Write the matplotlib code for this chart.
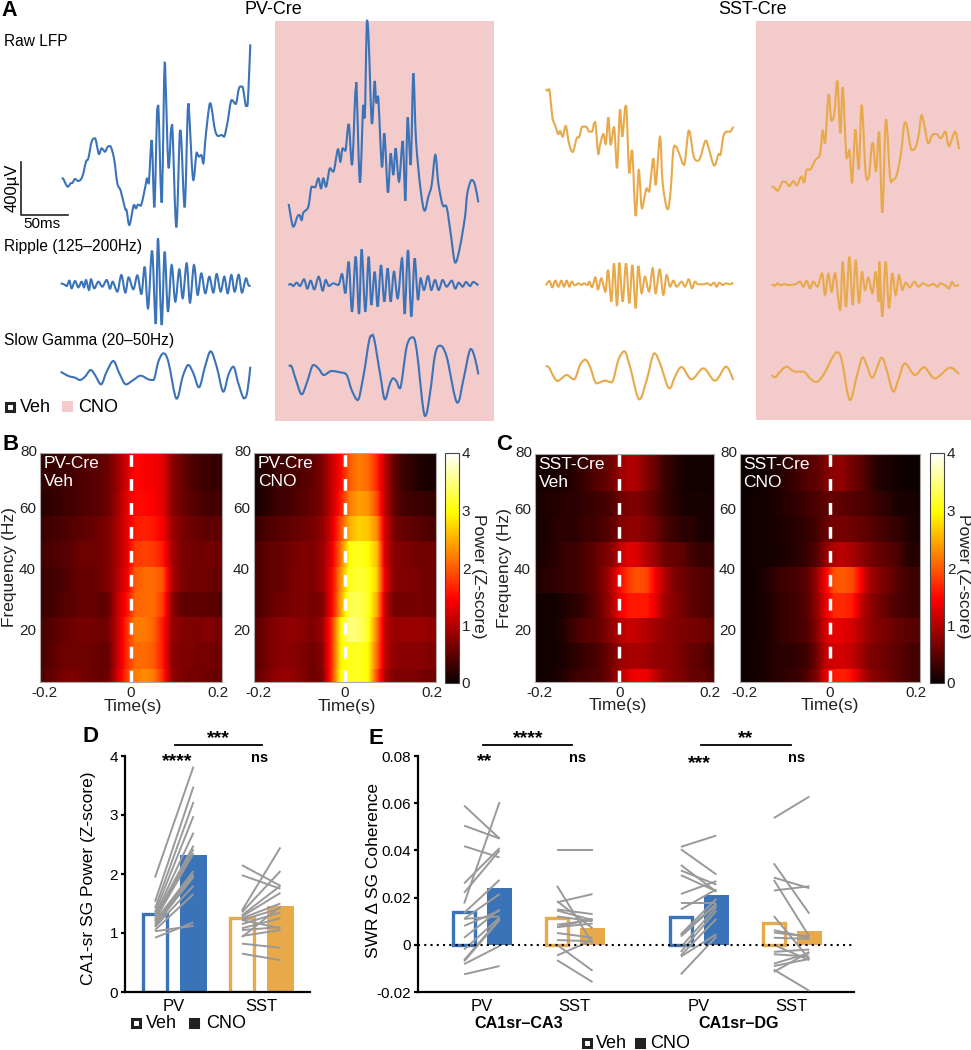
import numpy as np
import matplotlib
matplotlib.use('Agg')
import matplotlib.pyplot as plt
from matplotlib.patches import Rectangle, PathPatch
from matplotlib.path import Path

plt.rcParams['font.family'] = ['Liberation Sans', 'DejaVu Sans']

W, H = 971, 1050
BLUE = '#3a73b8'
ORANGE = '#e8a94a'
PINK = '#f2cbca'
GREY = '#999999'

# Panel A traces (x, y on a 3x grid of the image)
pv_veh_raw = [(185,535),(190,537),(203,560),(212,550),(218,548),(225,537),(235,543),(247,530),(258,485),(265,475),(275,425),(285,415),(297,462),(305,445),(315,455),(322,442),(330,438),(342,475),(352,550),(362,572),(375,625),(380,632),(388,675),(402,615),(408,625),(414,614),(422,617),(435,565),(441,536),(446,550),(455,420),(463,622),(472,325),(476,340),(485,608),(494,188),(497,250),(506,505),(514,383),(518,400),(529,682),(540,392),(544,420),(554,622),(564,320),(567,330),(580,540),(590,458),(597,470),(604,465),(610,490),(617,410),(630,310),(635,325),(645,390),(655,408),(665,405),(672,410),(682,370),(695,300),(707,312),(717,265),(727,260),(738,318),(742,318),(751,133)]
pv_cno_raw = [(866,612),(880,680),(892,650),(898,645),(905,660),(910,638),(925,620),(935,560),(945,562),(955,535),(963,565),(970,535),(978,560),(990,505),(1000,515),(1014,448),(1021,485),(1028,445),(1036,452),(1046,372),(1056,495),(1067,268),(1070,270),(1080,548),(1090,315),(1094,355),(1101,62),(1106,120),(1116,372),(1124,243),(1129,310),(1134,290),(1146,502),(1153,400),(1164,578),(1172,460),(1180,525),(1187,445),(1197,545),(1208,423),(1216,602),(1223,352),(1232,495),(1240,220),(1248,420),(1262,570),(1274,632),(1285,590),(1295,555),(1306,465),(1315,550),(1328,615),(1340,622),(1352,700),(1366,788),(1380,740),(1395,650),(1402,580),(1415,540),(1425,555),(1435,607)]
pv_veh_rip = [(182,850),(192,853),(200,858),(208,842),(215,865),(225,843),(235,862),(245,845),(252,862),(258,840),(267,870),(273,838),(283,865),(295,845),(307,860),(320,840),(330,866),(338,845),(352,875),(364,825),(376,878),(386,832),(400,868),(412,826),(424,882),(434,800),(444,925),(456,752),(467,972),(474,715),(485,975),(494,755),(504,935),(515,795),(526,905),(538,808),(548,895),(560,790),(570,908),(582,795),(593,885),(604,820),(616,880),(628,830),(640,878),(650,822),(662,875),(673,830),(683,880),(694,825),(704,875),(716,824),(726,878),(738,835),(745,855),(752,858)]
pv_cno_rip = [(865,855),(872,852),(880,858),(890,848),(900,858),(912,838),(922,866),(932,842),(943,868),(956,830),(968,872),(977,840),(987,858),(1000,850),(1015,855),(1026,822),(1036,880),(1046,785),(1056,935),(1067,770),(1077,942),(1085,748),(1096,935),(1106,770),(1114,915),(1124,815),(1133,920),(1143,795),(1153,905),(1163,805),(1172,905),(1182,815),(1193,895),(1206,775),(1214,942),(1224,750),(1234,950),(1244,775),(1254,900),(1262,835),(1272,870),(1284,828),(1294,870),(1305,840),(1316,870),(1328,840),(1340,860),(1355,842),(1366,866),(1376,848),(1388,860),(1398,846),(1410,858),(1420,846),(1435,856)]
pv_veh_sg = [(182,1115),(205,1128),(225,1133),(240,1140),(255,1130),(272,1110),(285,1125),(303,1153),(320,1115),(340,1083),(358,1120),(378,1153),(400,1140),(422,1127),(445,1138),(460,1140),(475,1085),(490,1060),(505,1085),(530,1196),(548,1130),(565,1095),(580,1120),(597,1162),(615,1100),(632,1054),(650,1100),(670,1175),(685,1125),(700,1100),(715,1150),(732,1195),(742,1175),(751,1100)]
pv_cno_sg = [(866,1098),(875,1100),(888,1140),(905,1183),(920,1150),(940,1095),(955,1105),(972,1125),(995,1113),(1020,1117),(1040,1125),(1055,1170),(1073,1200),(1090,1130),(1112,1008),(1122,1015),(1140,1120),(1155,1198),(1170,1150),(1180,1135),(1190,1145),(1200,1165),(1220,1040),(1237,1012),(1250,1050),(1275,1248),(1290,1180),(1305,1065),(1320,1037),(1340,1070),(1372,1208),(1390,1140),(1412,1047),(1425,1075),(1435,1123)]

sst_veh_raw = [(137,268),(142,272),(146,268),(150,280),(157,352),(165,375),(175,402),(180,393),(188,410),(197,378),(207,430),(218,456),(230,415),(238,410),(247,380),(258,380),(268,395),(276,395),(283,368),(287,375),(295,462),(300,435),(310,402),(317,432),(325,352),(332,435),(342,380),(351,505),(360,328),(367,410),(376,320),(380,335),(388,520),(396,450),(407,648),(416,510),(420,550),(426,625),(440,565),(447,575),(460,475),(467,555),(480,410),(488,550),(503,628),(512,570),(520,450),(528,440),(538,462),(552,495),(566,392),(572,410),(580,465),(590,482),(600,475),(617,422),(625,440),(643,497),(656,462),(661,465),(670,410),(680,395),(690,395),(700,380)]
sst_cno_raw = [(815,560),(822,562),(833,572),(848,545),(858,547),(868,558),(880,543),(890,556),(904,530),(912,547),(920,510),(932,508),(945,482),(960,462),(968,392),(975,430),(986,282),(994,362),(1003,340),(1012,242),(1021,400),(1028,262),(1040,475),(1048,450),(1056,550),(1066,388),(1076,508),(1085,315),(1097,520),(1106,532),(1116,432),(1120,435),(1128,515),(1137,395),(1147,638),(1158,358),(1170,530),(1178,540),(1190,525),(1203,460),(1214,368),(1220,375),(1235,450),(1245,445),(1255,410),(1265,345),(1272,370),(1285,430),(1297,405),(1310,402),(1322,415),(1336,395),(1347,438),(1365,395),(1377,447)]
sst_veh_rip = [(137,856),(148,843),(157,862),(166,842),(175,860),(184,842),(192,860),(200,842),(208,860),(215,845),(225,856),(235,850),(245,855),(252,850),(262,855),(268,845),(276,862),(286,832),(294,868),(304,835),(316,875),(324,810),(334,905),(342,790),(351,918),(358,788),(368,905),(378,790),(388,910),(397,795),(407,925),(415,798),(425,880),(435,830),(447,875),(458,805),(467,880),(479,808),(490,885),(500,825),(510,860),(520,842),(530,860),(545,845),(555,860),(566,838),(576,865),(585,845),(595,853),(610,853),(622,850),(632,856),(642,848),(650,860),(658,848),(668,855),(678,850),(690,853),(700,848)]
sst_cno_rip = [(815,853),(825,857),(833,850),(843,856),(853,852),(865,855),(885,853),(900,845),(910,860),(920,843),(930,865),(940,845),(952,860),(966,820),(975,885),(985,822),(995,875),(1005,820),(1020,930),(1028,785),(1038,920),(1048,770),(1058,915),(1067,780),(1077,910),(1086,815),(1095,870),(1105,832),(1117,880),(1127,815),(1136,905),(1138,785),(1147,950),(1157,785),(1167,925),(1177,820),(1187,885),(1197,825),(1207,870),(1217,848),(1230,862),(1243,845),(1255,860),(1270,850),(1285,857),(1300,852),(1312,860),(1322,850),(1335,856),(1347,865),(1356,846),(1365,858),(1377,855)]
sst_veh_sg = [(137,1098),(147,1103),(160,1128),(172,1143),(185,1135),(200,1125),(222,1138),(240,1095),(256,1079),(270,1100),(290,1150),(315,1142),(335,1147),(355,1080),(373,1054),(390,1100),(418,1198),(440,1140),(463,1060),(480,1090),(508,1165),(525,1130),(545,1101),(575,1138),(610,1105),(645,1142),(678,1100),(700,1140)]
sst_cno_sg = [(815,1125),(825,1132),(840,1115),(860,1100),(885,1115),(910,1115),(930,1135),(948,1146),(970,1125),(1010,1057),(1025,1080),(1050,1200),(1070,1130),(1088,1072),(1100,1095),(1117,1133),(1145,1073),(1160,1110),(1180,1175),(1195,1140),(1215,1090),(1245,1125),(1272,1102),(1305,1135),(1350,1103),(1377,1122)]

# Heatmaps: frequency rows top to bottom, 20 time bins
time_edges = np.linspace(-0.2, 0.2, 21)
freq_edges = [77.8, 65.5, 57, 48.7, 40.3, 32, 23.8, 15.6, 6.9, 2.8]

pv_veh_map = [
    [.25,.28,.3,.35,.4,.45,.5,.6,.85,1.2,1.5,1.45,1.4,1.3,.8,.6,.45,.35,.3,.25],
    [.2,.25,.3,.35,.4,.45,.5,.6,.9,1.3,1.5,1.5,1.45,1.3,.8,.6,.5,.4,.35,.35],
    [.3,.35,.4,.45,.5,.55,.6,.7,.95,1.3,1.6,1.65,1.6,1.4,.9,.7,.6,.55,.5,.5],
    [.35,.4,.45,.5,.6,.6,.6,.7,.95,1.3,1.8,1.85,1.8,1.6,.95,.7,.65,.6,.65,.6],
    [.3,.35,.4,.5,.55,.55,.6,.7,1,1.35,2.0,2.1,2.1,1.95,1,.7,.65,.6,.6,.55],
    [.3,.35,.45,.5,.55,.55,.5,.55,1.1,1.5,2.05,2.1,2.1,1.8,.8,.55,.5,.5,.5,.45],
    [.4,.45,.55,.6,.65,.65,.6,.65,1.1,1.7,2.2,2.2,2.05,1.6,.85,.75,.7,.7,.75,.65],
    [.4,.5,.6,.6,.6,.6,.55,.55,1.1,1.7,2.1,2.1,2,1.6,.8,.7,.7,.65,.65,.6],
    [.45,.55,.65,.7,.65,.6,.55,.6,1.2,1.8,2.2,2.3,2.2,1.7,.85,.7,.65,.65,.6,.55],
]
pv_cno_map = [
    [.1,.2,.3,.35,.4,.45,.55,.7,1.1,1.5,2.0,2.2,2.1,1.7,1,.5,.3,.2,.12,.1],
    [.1,.2,.3,.35,.4,.5,.55,.7,1.1,1.6,2.2,2.4,2.35,1.9,1.0,.5,.35,.3,.3,.25],
    [.3,.4,.45,.5,.55,.6,.65,.8,1.2,1.9,2.5,2.7,2.65,2.3,1.1,.65,.55,.5,.45,.4],
    [.4,.5,.55,.6,.65,.7,.7,.85,1.3,2.1,3.0,3.1,3.0,2.6,1.1,.75,.7,.65,.6,.6],
    [.4,.5,.55,.6,.7,.7,.7,.85,1.4,2.3,3.1,3.2,3.1,2.7,1.2,.75,.7,.7,.65,.6],
    [.4,.5,.6,.65,.7,.7,.65,.7,1.4,2.4,3.3,3.3,3.15,2.5,1,.65,.65,.65,.65,.6],
    [.5,.65,.75,.8,.8,.75,.7,.85,1.7,2.9,3.5,3.4,3.15,2.2,1,.85,.85,.85,.85,.8],
    [.5,.65,.75,.75,.75,.7,.6,.75,1.7,2.9,3.1,3.1,3.0,2.1,1,.8,.75,.75,.75,.7],
    [.55,.7,.8,.85,.8,.7,.6,.7,1.7,3.0,3.1,3.1,3.0,1.9,.9,.7,.7,.7,.65,.6],
]
sst_veh_map = [
    [.05,.08,.1,.12,.2,.3,.4,.5,.6,.85,1.0,.95,.7,.55,.3,.2,.08,.06,.05,.05],
    [.1,.15,.15,.2,.2,.25,.3,.35,.4,.6,.7,.7,.6,.45,.3,.2,.1,.08,.1,.08],
    [.1,.12,.2,.2,.2,.3,.3,.4,.5,.7,.8,.8,.7,.6,.4,.3,.2,.2,.1,.1],
    [.1,.15,.2,.3,.3,.4,.5,.65,.75,1.1,1.3,1.25,1.0,.85,.6,.55,.5,.35,.25,.25],
    [.15,.2,.25,.3,.3,.4,.5,.7,1,1.5,1.8,1.95,1.85,1.4,1.0,.7,.6,.5,.45,.4],
    [.05,.05,.08,.15,.2,.3,.45,.65,.95,1.4,1.6,1.6,1.6,1.3,.9,.75,.65,.5,.45,.4],
    [.05,.05,.08,.2,.35,.45,.5,.6,.8,1.0,1.15,1.1,1.0,.9,.8,.75,.7,.65,.65,.55],
    [.05,.05,.08,.15,.2,.3,.35,.45,.65,.85,.95,.95,.9,.8,.8,.75,.65,.55,.5,.4],
    [.05,.05,.1,.2,.3,.35,.4,.45,.65,1.0,1.3,1.4,1.35,1.1,.85,.75,.7,.55,.55,.45],
]
sst_cno_map = [
    [.02,.03,.05,.08,.15,.25,.35,.45,.5,.7,.8,.8,.6,.5,.3,.15,.1,.05,.03,.03],
    [.03,.05,.05,.1,.15,.2,.25,.35,.4,.5,.55,.5,.45,.4,.35,.25,.2,.1,.1,.08],
    [.03,.05,.05,.1,.12,.15,.2,.25,.35,.55,.65,.65,.6,.55,.45,.4,.3,.25,.15,.1],
    [.02,.05,.05,.08,.1,.15,.2,.3,.45,.8,1.0,1.05,.95,.8,.65,.55,.5,.4,.2,.15],
    [.02,.05,.1,.2,.3,.35,.4,.5,.85,1.4,1.95,2.0,1.9,1.4,.9,.75,.6,.45,.35,.3],
    [.02,.05,.08,.15,.25,.3,.35,.5,.8,1.3,1.7,1.7,1.6,1.1,.8,.65,.5,.4,.35,.3],
    [.03,.05,.1,.15,.25,.3,.35,.45,.75,1.2,1.35,1.3,1.2,1.0,.8,.7,.65,.55,.5,.45],
    [.03,.05,.08,.15,.2,.2,.25,.35,.6,1.1,1.2,1.2,1.1,.9,.7,.65,.55,.5,.4,.35],
    [.03,.05,.1,.15,.2,.25,.3,.45,.7,1.3,1.6,1.65,1.5,1.1,.8,.7,.6,.5,.4,.35],
]

# Panel D bars and paired animals (veh, cno)
d_veh = [1.33, 1.26]
d_cno = [2.33, 1.46]
d_pv_pairs = [(1.94,3.82),(1.53,3.48),(1.42,3.22),(1.35,2.98),(1.3,2.7),(1.28,2.48),(1.25,2.42),(1.22,2.35),(1.2,2.05),(1.18,2.0),(1.15,1.98),(1.12,1.95),(1.1,1.8),(1.05,1.66),(.92,1.18),(1.03,1.12)]
d_sst_pairs = [(2.15,1.8),(1.98,1.75),(1.38,2.45),(1.35,2.05),(1.3,1.8),(1.28,1.68),(1.25,1.5),(1.22,1.42),(1.15,1.35),(1.08,1.25),(1.05,1.1),(.95,1.05),(1.22,1.08),(.82,.75),(.65,.54),(.93,1.45)]

# Panel E bars and pairs
e_veh = [0.0137, 0.0115, 0.0118, 0.0092]
e_cno = [0.0242, 0.0070, 0.0213, 0.0057]
e_ca3_pv = [(0.059,0.045),(0.0505,0.045),(0.0418,0.037),(0.0175,0.0605),(0.026,0.041),(0.022,0.040),(0.0135,0.0275),(0.011,0.0215),(0.008,0.0145),(0.003,0.015),(0.011,0.012),(-0.002,0.0115),(-0.0065,0.011),(-0.007,0.0105),(-0.0082,-0.0005),(-0.0125,-0.009)]
e_ca3_sst = [(0.040,0.040),(0.025,0.0005),(0.018,0.0215),(0.0185,0.007),(0.015,0.013),(0.0145,0.0105),(0.012,0.010),(0.0085,0.0105),(0.0075,0.009),(0.0075,0.011),(0.005,0.003),(0.002,0.0015),(0.0,-0.011),(-0.0045,0.002),(-0.0065,-0.0158)]
e_dg_pv = [(0.0415,0.0463),(0.0405,0.0298),(0.0338,0.0225),(0.0315,0.0255),(0.0295,0.0227),(0.0215,0.027),(0.0178,0.0178),(0.015,0.0235),(0.0045,0.0195),(0.004,0.0175),(0.0035,0.017),(-0.001,0.016),(-0.003,0.0145),(-0.0045,0.011),(-0.005,0.0045),(-0.0125,0.0035)]
e_dg_sst = [(0.0537,0.0628),(0.0345,0.0132),(0.0285,0.024),(0.0275,0.0035),(0.023,0.0248),(0.0122,-0.006),(0.0062,0.003),(0.0052,0.0035),(0.003,0.0025),(0.0,-0.0065),(-0.003,-0.002),(-0.004,-0.005),(-0.008,-0.0035),(-0.009,-0.006),(-0.0115,-0.003),(-0.0105,-0.0195)]

fig = plt.figure(figsize=(W / 100, H / 100), dpi=100)


def axes_px(x0, y0, x1, y1, **kw):
    return fig.add_axes([x0 / W, 1 - y1 / H, (x1 - x0) / W, (y1 - y0) / H], **kw)


def text_px(x, y, s, size=13, ha='center', va='center', **kw):
    return fig.text(x / W, 1 - y / H, s, fontsize=size, ha=ha, va=va, **kw)


def legend_px(x, y, filled=False, edge='#222222', size=8):
    face = edge if filled else 'white'
    overlay.add_patch(Rectangle((x - size / 2, y - size / 2), size, size, fc=face, ec=edge, lw=2.2))


# overlay in picture pixels for panel A and the small legends
overlay = axes_px(0, 0, W, H)
overlay.set_xlim(0, W)
overlay.set_ylim(H, 0)
overlay.axis('off')
overlay.add_patch(Rectangle((275, 21), 219, 400, fc=PINK, ec='none', zorder=0))
overlay.add_patch(Rectangle((756, 21), 215, 399, fc=PINK, ec='none', zorder=0))


def draw_trace(trace, color, shift=0):
    # rounded path through the read points, flat at peaks so nothing overshoots
    pts = np.array(trace, dtype=float)
    pts[:, 0] = (pts[:, 0] + shift) / 3
    pts[:, 1] = pts[:, 1] / 3
    n = len(pts)
    tang = np.zeros_like(pts)
    for i in range(n):
        prev_p, next_p = pts[max(i - 1, 0)], pts[min(i + 1, n - 1)]
        tang[i] = (next_p - prev_p) / 6
        if 0 < i < n - 1 and (pts[i, 1] - prev_p[1]) * (next_p[1] - pts[i, 1]) <= 0:
            tang[i, 1] = 0
    verts = [pts[0]]
    codes = [Path.MOVETO]
    for i in range(n - 1):
        verts += [pts[i] + tang[i], pts[i + 1] - tang[i + 1], pts[i + 1]]
        codes += [Path.CURVE4] * 3
    overlay.add_patch(PathPatch(Path(verts, codes), fill=False, ec=color, lw=1.5))


for tr in [pv_veh_raw, pv_cno_raw, pv_veh_rip, pv_cno_rip, pv_veh_sg, pv_cno_sg]:
    draw_trace(tr, BLUE)
for tr in [sst_veh_raw, sst_cno_raw, sst_veh_rip, sst_cno_rip, sst_veh_sg, sst_cno_sg]:
    draw_trace(tr, ORANGE, shift=1500)

overlay.plot([21, 21, 68], [162, 215, 215], color='#222222', lw=1.2)
text_px(12, 188, '400µV', size=12, rotation=90)
text_px(42, 224, '50ms', size=11)
text_px(1, 10, 'A', size=15.5, ha='left', fontweight='bold')
text_px(273, 9, 'PV-Cre', size=13)
text_px(753, 9, 'SST-Cre', size=13)
text_px(4, 41, 'Raw LFP', size=11.2, ha='left')
text_px(4, 247, 'Ripple (125–200Hz)', size=11.2, ha='left')
text_px(4, 340, 'Slow Gamma (20–50Hz)', size=11.2, ha='left')
legend_px(10, 407)
text_px(20, 407, 'Veh', size=13, ha='left')
overlay.add_patch(Rectangle((62, 401), 11, 11, fc=PINK, ec='none'))
text_px(78, 407, 'CNO', size=13, ha='left')


def heatmap(box, data, label, dash_x=0.0):
    ax = axes_px(*box)
    data = np.array(data)
    # one stretched image per frequency row: blocky in frequency, smooth in time
    for row, hi, lo in zip(data, freq_edges[:-1], freq_edges[1:]):
        im = ax.imshow(row[None, :], extent=[time_edges[0], time_edges[-1], lo, hi], aspect='auto',
                       cmap='hot', vmin=0, vmax=4, interpolation='bilinear')
    ax.set_xlim(-0.2, 0.2)
    ax.set_ylim(2.8, 77.8)
    ax.axvline(dash_x, color='white', lw=2.5, dashes=(3.4, 3.5))
    ax.set_xticks([-0.19, dash_x, 0.19])
    ax.set_xticklabels(['-0.2', '0', '0.2'])
    ax.set_yticks([20, 40, 60])
    ax.tick_params(length=0, labelsize=11, colors='#222222', pad=3)
    ax.text(-0.015, 1.006, '80', transform=ax.transAxes, ha='right', va='center', fontsize=11, color='#222222')
    ax.set_xlabel('Time(s)', fontsize=12.5, color='#222222', va='center')
    ax.text(0.02, 0.985, label, transform=ax.transAxes, color='white', fontsize=12.5, va='top', linespacing=1.25)
    for sp in ax.spines.values():
        sp.set_color('#aaaaaa')
        sp.set_linewidth(0.8)
    return ax, im


ax_b1, _ = heatmap((40, 453, 222, 682), pv_veh_map, 'PV-Cre\nVeh')
ax_b1.set_ylabel('Frequency (Hz)', fontsize=12.5, color='#222222', va='center')
ax_b1.yaxis.set_label_coords(-0.165, 0.5)
ax_b1.xaxis.set_label_coords(0.51, -0.105)
ax_b2, mesh_b = heatmap((254, 453, 436, 682), pv_cno_map, 'PV-Cre\nCNO')
ax_b2.xaxis.set_label_coords(0.51, -0.105)
ax_c1, _ = heatmap((535, 454, 714, 682), sst_veh_map, 'SST-Cre\nVeh', dash_x=-0.012)
ax_c1.set_ylabel('Frequency (Hz)', fontsize=12.5, color='#222222', va='center')
ax_c1.yaxis.set_label_coords(-0.168, 0.5)
ax_c1.xaxis.set_label_coords(0.46, -0.105)
ax_c2, mesh_c = heatmap((740, 454, 920, 682), sst_cno_map, 'SST-Cre\nCNO')
ax_c2.xaxis.set_label_coords(0.50, -0.105)

for box, mesh in [((445, 453, 459, 683), mesh_b), ((930, 453, 944, 683), mesh_c)]:
    cax = axes_px(*box)
    cb = fig.colorbar(mesh, cax=cax, ticks=[0, 1, 2, 3, 4])
    cb.ax.tick_params(length=0, labelsize=11, pad=2, colors='#222222')
    cb.outline.set_edgecolor('#444444')
    cb.set_label('Power (Z-score)', rotation=270, fontsize=12.5, color='#222222', va='center')
    cb.ax.yaxis.set_label_coords(2.36, 0.465)

text_px(2, 445, 'B', size=16, ha='left', fontweight='bold')
text_px(496, 445, 'C', size=16, ha='left', fontweight='bold')


def paired_bars(ax, x_veh, veh, cno, color, width=0.69, gap=1):
    ax.bar(x_veh, veh, width - 0.06, fc='none', ec=color, lw=2.4, zorder=2)
    ax.bar(x_veh + gap, cno, width, fc=color, ec='none', zorder=2)


def pair_lines(ax, x_veh, pairs):
    for v, c in pairs:
        ax.plot([x_veh, x_veh + 1], [v, c], color=GREY, lw=1.4, zorder=3, solid_capstyle='butt')


def style_axes(ax):
    for side in ['top', 'right']:
        ax.spines[side].set_visible(False)
    for side in ['left', 'bottom']:
        ax.spines[side].set_linewidth(1.6)
    ax.tick_params(axis='x', length=0, labelsize=12, pad=5)
    ax.tick_params(axis='y', length=3, width=1.6, labelsize=11, pad=2)
    ax.patch.set_alpha(0)


# Panel D
ax_d = axes_px(125, 756, 310, 992)
d_x = [0, 2.26]
paired_bars(ax_d, d_x[0], d_veh[0], d_cno[0], BLUE)
paired_bars(ax_d, d_x[1], d_veh[1], d_cno[1], ORANGE)
pair_lines(ax_d, d_x[0], d_pv_pairs)
pair_lines(ax_d, d_x[1], d_sst_pairs)
ax_d.set_xlim(-0.78, 4.03)
ax_d.set_ylim(0, 4)
ax_d.set_yticks([0, 1, 2, 3, 4])
ax_d.set_xticks([0.5, 2.76])
ax_d.set_xticklabels(['PV', 'SST'])
ax_d.set_ylabel('CA1-sr SG Power (Z-score)', fontsize=12.5, va='center')
ax_d.yaxis.set_label_coords(-0.195, 0.483)
style_axes(ax_d)

text_px(90, 737, 'D', size=16, fontweight='bold')
text_px(177, 762, '****', size=14, fontweight='bold')
text_px(260, 758, 'ns', size=10.5, fontweight='bold')
text_px(218, 739, '***', size=14, fontweight='bold')
overlay.plot([175, 262], [745, 745], color='black', lw=1.3)
legend_px(136, 1023)
text_px(146, 1023, 'Veh', size=13, ha='left')
legend_px(194, 1023, filled=True)
text_px(206, 1023, 'CNO', size=13, ha='left')

# Panel E
ax_e = axes_px(418, 756, 854, 992)
e_x = [0, 2.62, 6.11, 8.73]
e_colors = [BLUE, ORANGE, BLUE, ORANGE]
e_pairs = [e_ca3_pv, e_ca3_sst, e_dg_pv, e_dg_sst]
for x, v, c, col, prs in zip(e_x, e_veh, e_cno, e_colors, e_pairs):
    paired_bars(ax_e, x, v, c, col)
    pair_lines(ax_e, x, prs)
ax_e.axhline(0, color='black', lw=1.5, ls=(0, (1, 2)), zorder=4)
ax_e.set_xlim(-1.3, 10.99)
ax_e.set_ylim(-0.02, 0.08)
ax_e.set_yticks([-0.02, 0, 0.02, 0.04, 0.06, 0.08])
ax_e.set_yticklabels(['-0.02', '0', '0.02', '0.04', '0.06', '0.08'])
ax_e.set_xticks([x + 0.5 for x in e_x])
ax_e.set_xticklabels(['PV', 'SST', 'PV', 'SST'])
ax_e.set_ylabel('SWR Δ SG Coherence', fontsize=12.5, va='center')
ax_e.yaxis.set_label_coords(-0.103, 0.513)
style_axes(ax_e)

text_px(376, 738, 'E', size=16, fontweight='bold')
text_px(485, 762, '**', size=14, fontweight='bold')
text_px(578, 758, 'ns', size=10.5, fontweight='bold')
text_px(699, 764, '***', size=14, fontweight='bold')
text_px(797, 758, 'ns', size=10.5, fontweight='bold')
text_px(528, 739, '****', size=14, fontweight='bold')
text_px(746, 739, '**', size=14, fontweight='bold')
overlay.plot([483, 572], [745, 745], color='black', lw=1.3)
overlay.plot([701, 791], [745, 745], color='black', lw=1.3)
text_px(519, 1023, 'CA1sr–CA3', size=11.6, fontweight='bold')
text_px(739, 1023, 'CA1sr–DG', size=11.6, fontweight='bold')
legend_px(587, 1043)
text_px(596, 1043, 'Veh', size=13, ha='left')
legend_px(640, 1043, filled=True)
text_px(650, 1043, 'CNO', size=13, ha='left')

fig.savefig('out.png', dpi=100)
